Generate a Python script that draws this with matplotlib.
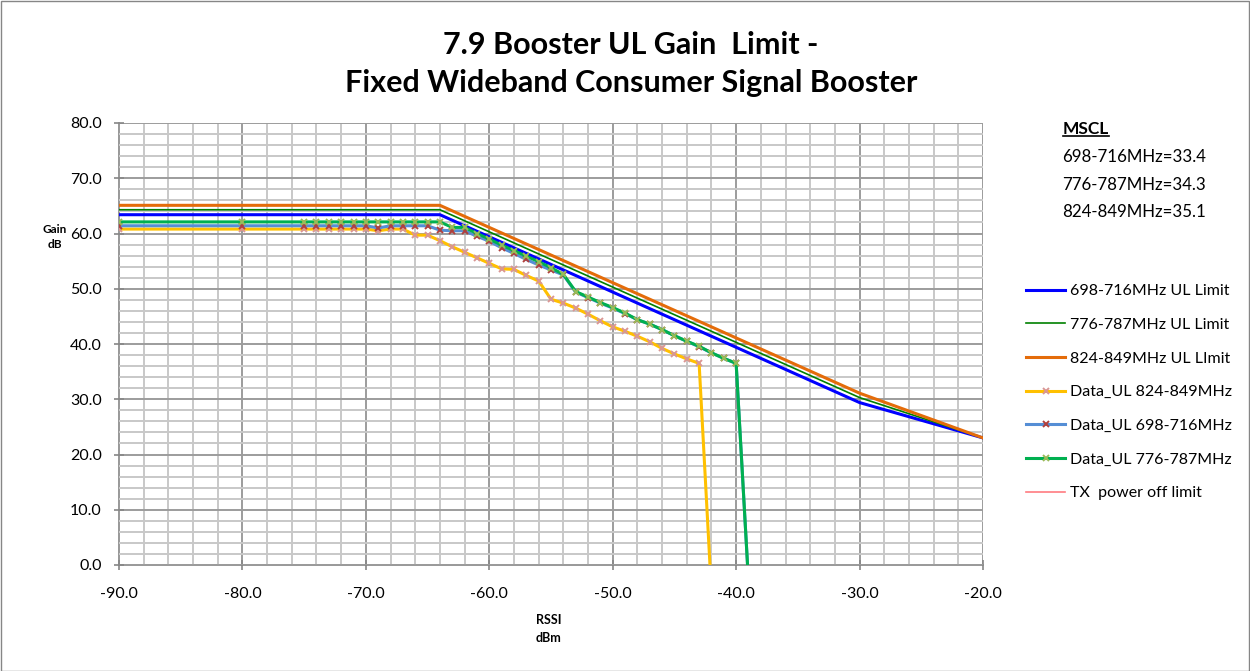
import matplotlib
matplotlib.use("Agg")
import matplotlib.pyplot as plt
from matplotlib.ticker import MultipleLocator, FormatStrFormatter
from matplotlib.lines import Line2D
from matplotlib.patches import Rectangle

W, H, DPI = 1250, 671, 100
plt.rcParams["font.family"] = ["Lato", "DejaVu Sans"]

# Regulatory uplink gain limits (dB) versus RSSI (dBm)
limit_rssi = [-90, -64, -30, -20]
limit_698_716 = [63.4, 63.4, 29.4, 23.0]
limit_776_787 = [64.3, 64.3, 30.3, 23.0]
limit_824_849 = [65.1, 65.1, 31.1, 23.0]

# Measured uplink gain (dB) versus RSSI (dBm)
data_rssi = [-90, -80, -75, -74, -73, -72, -71, -70, -69, -68, -67, -66, -65,
             -64, -63, -62, -61, -60, -59, -58, -57, -56, -55, -54, -53, -52,
             -51, -50, -49, -48, -47, -46, -45, -44, -43, -42, -41, -40, -39]
data_rssi_824_849 = data_rssi[:36]
data_824_849 = [60.8, 60.8, 60.8, 60.8, 60.8, 60.8, 60.8, 60.8, 60.5, 60.8,
                60.8, 59.7, 59.7, 58.7, 57.6, 56.6, 55.6, 54.6, 53.6, 53.5,
                52.4, 51.4, 48.1, 47.4, 46.5, 45.4, 44.2, 43.1, 42.3, 41.4,
                40.4, 39.2, 38.2, 37.3, 36.5, -5.0]
data_698_716 = [61.4, 61.4, 61.4, 61.4, 61.4, 61.4, 61.4, 61.4, 61.0, 61.4,
                61.4, 61.4, 61.4, 60.6, 60.5, 60.5, 59.5, 58.6, 57.4, 56.4,
                55.3, 54.3, 53.4, 52.5, 49.4, 48.4, 47.4, 46.5, 45.5, 44.4,
                43.6, 42.6, 41.5, 40.5, 39.5, 38.4, 37.4, 36.5, -3.0]
data_776_787 = [62.1, 62.1, 62.1, 62.1, 62.1, 62.1, 62.1, 62.1, 62.1, 62.1,
                62.1, 62.1, 62.1, 62.1, 61.1, 61.1, 60.0, 59.0, 57.9, 56.9,
                55.9, 54.9, 53.8, 52.6, 49.5, 48.5, 47.5, 46.6, 45.6, 44.4,
                43.6, 42.6, 41.5, 40.5, 39.6, 38.4, 37.4, 36.5, -3.0]
tx_off_rssi = []
tx_off_gain = []

title_lines = ["7.9 Booster UL Gain  Limit -", "Fixed Wideband Consumer Signal Booster"]
mscl_title = "MSCL"
mscl_lines = ["698-716MHz=33.4", "776-787MHz=34.3", "824-849MHz=35.1"]

px = 72.0 / DPI  # points per pixel

fig = plt.figure(figsize=(W / DPI, H / DPI), dpi=DPI)
fig.patch.set_facecolor("white")
ax = fig.add_axes([119 / W, 1 - 565 / H, (983 - 119) / W, (565 - 123) / H])

ax.set_xlim(-90, -20)
ax.set_ylim(0, 80)
ax.xaxis.set_major_locator(MultipleLocator(10))
ax.xaxis.set_minor_locator(MultipleLocator(2))
ax.yaxis.set_major_locator(MultipleLocator(10))
ax.yaxis.set_minor_locator(MultipleLocator(2))
ax.xaxis.set_major_formatter(FormatStrFormatter("%.1f"))
ax.yaxis.set_major_formatter(FormatStrFormatter("%.1f"))

ax.set_axisbelow(True)
ax.grid(which="minor", color="#C8C8C8", linewidth=1.4)
ax.grid(which="major", color="#9C9C9C", linewidth=1.4)
for s in ("top", "right"):
    ax.spines[s].set_visible(False)
for s in ("left", "bottom"):
    ax.spines[s].set_color("#868686")
    ax.spines[s].set_linewidth(1.2)
    ax.spines[s].set_zorder(0.5)
ax.tick_params(which="major", direction="inout", length=7, width=1.2,
               color="#868686", labelsize=11.5, labelcolor="black")
ax.tick_params(axis="y", which="major", pad=9)
ax.tick_params(axis="x", which="major", pad=12)
ax.tick_params(which="minor", length=0)

lines = []
lines += ax.plot(limit_rssi, limit_698_716, color="#0000FF", lw=2.2,
                 label="698-716MHz UL Limit")
lines += ax.plot(limit_rssi, limit_776_787, color="#008000", lw=1.2,
                 label="776-787MHz UL Limit")
lines += ax.plot(limit_rssi, limit_824_849, color="#E46C0A", lw=2.2,
                 label="824-849MHz UL LImit")
mk = dict(marker="x", markersize=4.5, markeredgewidth=1.4)
lines += ax.plot(data_rssi_824_849, data_824_849, color="#FFC000", lw=2.2,
                 markeredgecolor="#D99694", label="Data_UL 824-849MHz", **mk)
lines += ax.plot(data_rssi, data_698_716, color="#558ED5", lw=2.2,
                 markeredgecolor="#B0403D", label="Data_UL 698-716MHz", **mk)
lines += ax.plot(data_rssi, data_776_787, color="#00B050", lw=2.2,
                 markeredgecolor="#9BBB59", label="Data_UL 776-787MHz", **mk)
lines += ax.plot(tx_off_rssi, tx_off_gain, color="#FF7C80", lw=1.2,
                 label="TX  power off limit")

leg = ax.legend(handles=lines, loc="upper left",
                bbox_to_anchor=(1026 / W, 1 - 284 / H),
                bbox_transform=fig.transFigure, frameon=False,
                fontsize=11.5, handlelength=2.45, handletextpad=0.3,
                labelspacing=1.22, borderpad=0, borderaxespad=0,
                numpoints=1)

# Title
fig.text(631 / W, 1 - 45 / H, title_lines[0], ha="center", va="center",
         fontsize=22, fontweight="bold")
fig.text(631 / W, 1 - 83 / H, title_lines[1], ha="center", va="center",
         fontsize=22, fontweight="bold")

# Axis titles
fig.text(55 / W, 1 - 237 / H, "Gain\ndB", ha="center", va="center",
         fontsize=8.5, fontweight="bold", linespacing=1.35)
fig.text(549 / W, 1 - 629 / H, "RSSI\ndBm", ha="center", va="center",
         fontsize=9, fontweight="bold", linespacing=1.6)

# MSCL annotation
t_mscl = fig.text(1063 / W, 1 - 129 / H, mscl_title, ha="left", va="center",
                  fontsize=12.5, fontweight="bold")
for i, s in enumerate(mscl_lines):
    fig.text(1062 / W, 1 - (157 + 27.5 * i) / H, s, ha="left", va="center",
             fontsize=12.2)

fig.canvas.draw()
bb = t_mscl.get_window_extent()
uy = bb.y0 + 1.5
fig.add_artist(Line2D([bb.x0 / W, bb.x1 / W], [uy / H, uy / H],
                      transform=fig.transFigure, color="black", lw=1.2))

# Chart border
fig.add_artist(Rectangle((0.5 / W, 0.5 / H), 1 - 1.5 / W, 1 - 1.5 / H,
                         transform=fig.transFigure, fill=False,
                         edgecolor="#868686", lw=1.0))

fig.savefig("out.png", dpi=DPI, facecolor="white")
